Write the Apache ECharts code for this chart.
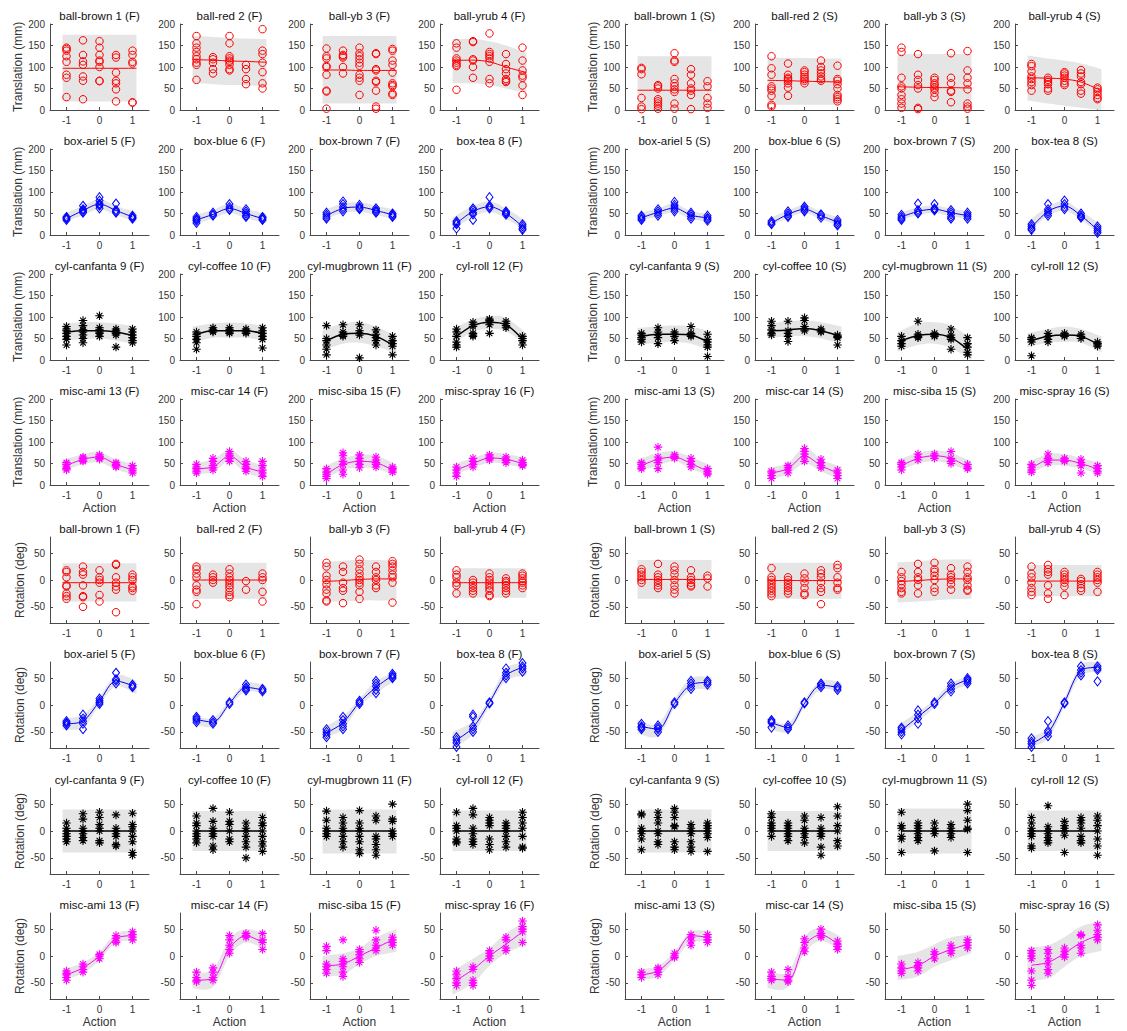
<!DOCTYPE html>
<html><head><meta charset="utf-8">
<script src="https://cdn.jsdelivr.net/npm/echarts@6/dist/echarts.min.js"></script>
<style>html,body{margin:0;padding:0;background:#fff}#c{width:1127px;height:1031px}</style>
</head><body><div id="c"></div>
<script>
// ---------- categories / ticks ----------
const ACTIONS = [-1, -0.5, 0, 0.5, 1];
const BAND_X = [-1.12, -0.5, 0, 0.5, 1.12];
const objectNames = ['ball-brown 1','ball-red 2','ball-yb 3','ball-yrub 4','box-ariel 5','box-blue 6','box-brown 7','box-tea 8',
  'cyl-canfanta 9','cyl-coffee 10','cyl-mugbrown 11','cyl-roll 12','misc-ami 13','misc-car 14','misc-siba 15','misc-spray 16'];
const conditions = ['F', 'S'];
const xTicks = [-1, 0, 1];
const yTicksTrans = [0, 50, 100, 150, 200];
const yTicksRot = [-50, 0, 50];

// ---------- Translation (mm), F ----------
const transF_ball_pts = [
 [[145,142,138,125,112,82,75,30],[162,128,113,105,78,68,25],[160,145,128,115,112,100,68,67],[128,122,87,68,62,48,20],[138,128,112,108,18,17]],
 [[172,155,145,135,125,118,110,105,70],[123,118,110,95,85],[172,155,125,120,115,112,105,95,92],[105,95,72,60],[188,138,130,110,88,62,50]],
 [[143,125,120,102,100,82,45,43,3],[138,128,125,122,100,85],[145,132,125,118,110,103,82,75,68,35],[132,130,95,92,68,65,45,8,3],[142,138,115,105,87,62,58,55,38,35]],
 [[155,145,120,115,110,105,102,47],[160,158,118,115,100,75],[178,135,130,125,120,112,72,62],[130,107,95,85,72,68,65],[145,115,92,80,75,57,35]]
];
const transF_ball_mean = [[97,97,97,97,97],[117,116,114,113,111],[93,93,92,92,92],[115,116,112,100,87]];
const transF_ball_lo = [[20,20,20,20,20],[62,60,58,57,55],[15,15,15,15,15],[62,62,58,50,40]];
const transF_ball_hi = [[175,175,175,175,175],[172,170,168,166,165],[172,172,172,172,172],[165,165,160,150,133]];

const transF_box_pts = [
 [[42,38,35,40],[68,60,55,52,58],[88,80,73,68,62,70],[73,58,55,52],[45,42,40,38]],
 [[42,38,33,28,35],[52,48,45],[72,65,60,58],[60,55,50,45,42],[42,40,37,35]],
 [[52,47,42,38],[78,72,65,60,55],[70,65,62,60],[62,58,55,52],[50,47,44,42]],
 [[32,28,25,15],[62,58,52,48,35],[88,68,65,62],[55,52,50,47],[25,20,15,12]]
];
const transF_box_mean = [[38,57,72,57,42],[35,48,62,50,38],[45,62,65,57,47],[27,55,66,50,20]];
const transF_box_lo = [[28,46,60,46,31],[24,38,51,39,27],[34,51,54,46,36],[12,42,54,38,8]];
const transF_box_hi = [[48,68,84,68,52],[46,58,73,61,49],[56,73,76,68,58],[40,68,78,62,32]];

const transF_cyl_pts = [
 [[78,72,68,62,55,48,35],[92,80,70,65,58,50,40],[103,75,70,65,62,55],[72,68,65,62,58,30],[72,65,58,52,45,40]],
 [[65,60,55,48,40,25],[75,70,68,65],[75,70,68,65,62],[72,68,65,62],[75,68,62,55,48,28]],
 [[80,50,45,35,25,12],[82,65,60,58,55],[82,68,62,58,5],[70,60,52,45,35],[55,45,38,32,12]],
 [[72,65,55,42,35,30],[88,82,78,62,58,55],[95,92,88,82,62],[90,85,80,75],[55,50,45,35]]
];
const transF_cyl_mean = [[65,68,68,65,57],[60,68,68,68,62],[45,60,62,55,35],[55,80,88,82,48]];
const transF_cyl_lo = [[45,48,50,45,37],[42,52,52,52,45],[22,38,40,32,15],[38,65,72,67,33]];
const transF_cyl_hi = [[85,88,88,85,78],[78,85,87,85,80],[70,85,88,78,55],[72,95,102,98,62]];

const transF_misc_pts = [
 [[52,48,42,38,35],[65,62,58,55],[70,66,62,60],[52,48,45,42],[45,38,33,28]],
 [[48,42,38,32,28],[62,55,45,40,35],[78,72,68,62,55],[55,48,42,38,32],[55,45,35,28,20]],
 [[38,30,25,20,15],[75,68,55,48,35,25],[70,62,55,48,40],[65,58,52,48,42],[42,38,35,30]],
 [[42,35,28,20],[62,55,48,42],[70,65,62,58],[65,60,57,52],[58,52,48,45]]
];
const transF_misc_mean = [[45,60,65,48,35],[38,42,68,42,30],[25,48,55,52,35],[35,50,63,60,50]];
const transF_misc_lo = [[33,48,53,36,23],[25,30,55,28,15],[12,35,40,38,22],[22,40,52,48,38]];
const transF_misc_hi = [[57,72,77,60,47],[50,60,82,58,45],[40,62,70,68,48],[48,62,75,72,62]];

// ---------- Translation (mm), S ----------
const transS_ball_pts = [
 [[98,95,83,28,8,2],[58,55,50,25,20,15,10,3],[132,115,112,72,62,55,48,42,15,3],[95,82,62,50,45,35,2],[67,55,28,15,5]],
 [[125,97,82,55,50,45,33,12,8],[108,82,75,72,68,62,52,33],[92,88,82,77,72,68,62],[115,100,92,85,78,72,68],[103,72,68,60,50,35,30,25,20]],
 [[145,135,75,55,50,35,25,15,5],[130,82,70,58,50,5,2],[75,70,62,58,52,48,40,30],[132,75,62,45,42,18],[137,92,75,62,48,15,8,3]],
 [[107,102,90,78,72,65,58,45],[75,70,65,60,50,45],[88,85,80,75,68,62,58],[93,85,78,65,60,45,38],[52,48,42,35,28,25]]
];
const transS_ball_mean = [[46,46,46,46,46],[69,68,67,66,65],[54,53,52,52,51],[75,74,72,65,45]];
const transS_ball_lo = [[0,0,0,0,0],[12,12,12,12,12],[0,0,0,0,0],[22,15,10,5,0]];
const transS_ball_hi = [[125,125,125,125,125],[122,121,121,120,120],[130,130,130,130,130],[127,120,115,108,95]];

const transS_box_pts = [
 [[45,42,38,35],[60,55,50,45],[77,70,65,60,55],[52,48,43,38],[45,40,37,33]],
 [[32,28,25],[55,50,45,42],[66,62,58,55],[48,45,40],[35,30,25,22]],
 [[47,42,38,35],[73,58,53,50],[72,62,60,57],[58,53,48,42,38],[52,47,43,38]],
 [[25,20,15,12],[72,60,55,50,45],[80,72,65,60],[50,45,42,40],[20,15,10,5]]
];
const transS_box_mean = [[40,53,63,46,40],[28,48,60,45,30],[42,55,60,52,45],[18,55,68,45,12]];
const transS_box_lo = [[31,44,53,37,31],[19,39,51,36,21],[33,46,51,43,36],[6,44,57,35,0]];
const transS_box_hi = [[49,62,73,55,49],[37,57,69,54,39],[51,64,69,61,54],[30,66,79,55,24]];

const transS_cyl_pts = [
 [[62,58,52,48,42],[75,65,58,52,38],[65,60,55,45],[78,62,58,55],[60,48,42,35,30,8]],
 [[90,80,70,62,58],[90,68,62,55,43],[98,92,78,72,68],[72,68,65],[58,55,52,35]],
 [[55,45,38,32],[90,60,55,52],[62,58,55],[72,58,52,48,25],[52,38,30,18,12]],
 [[52,48,42,10],[62,55,48,42],[62,58,55],[60,55,50],[42,38,35,32]]
];
const transS_cyl_mean = [[55,60,60,58,42],[68,70,73,68,57],[45,57,60,52,25],[45,55,58,55,37]];
const transS_cyl_lo = [[35,40,42,38,22],[50,55,55,50,38],[20,35,38,28,0],[30,40,42,40,18]];
const transS_cyl_hi = [[75,78,80,78,65],[85,90,92,88,78],[65,85,88,80,50],[62,72,78,72,55]];

const transS_misc_pts = [
 [[52,48,42,38],[88,65,58,52,38],[70,66,62],[62,55,48,42],[38,32,28,25]],
 [[32,28,22,15],[45,40,35,28],[85,78,72,65,55],[60,52,45,40],[35,28,22,15]],
 [[52,48,42,35],[72,65,58],[72,68,62],[78,62,55,50],[48,42,38]],
 [[48,40,35,30],[72,62,58,52],[62,58,55],[60,52,45,28],[45,38,32,28]]
];
const transS_misc_mean = [[45,60,65,50,32],[28,38,68,45,28],[45,62,68,62,42],[38,58,58,50,37]];
const transS_misc_lo = [[32,45,55,38,20],[12,25,50,32,10],[32,50,55,48,30],[25,45,45,38,25]];
const transS_misc_hi = [[58,75,78,65,45],[40,52,88,60,42],[58,75,80,75,55],[52,72,72,62,50]];

// ---------- Rotation (deg), F ----------
const rotF_ball_pts = [
 [[18,15,5,-10,-12,-25,-30,-35],[25,15,10,-10,-30,-32,-50],[18,5,0,-5,-28,-40],[30,28,5,-5,-12,-18,-60],[10,5,0,-12,-15,-20]],
 [[25,20,12,5,-10,-18,-22,-45],[10,5,0,-5],[20,12,5,0,-5,-10,-15,-22,-28,-32],[-2,-18],[12,5,0,-22,-40]],
 [[32,25,8,0,-8,-18,-25,-38,-40],[25,15,-5,-15,-20,-43],[38,30,20,12,5,0,-5,-10,-22,-35],[25,15,5,0,-10,-15],[35,30,25,18,10,5,-5,-42]],
 [[18,10,5,-5,-10,-25],[0,-5,-10,-15,-20,-25],[12,5,0,-5,-10,-15,-20,-28,-30],[3,-2,-5,-10,-15,-20,-25],[12,8,3,-2,-5,-10,-15]]
];
const rotF_ball_mean = [[-5,-5,-5,-5,-5],[0,0,0,0,0],[-3,-1,1,2,2],[-5,-5,-5,-5,-5]];
const rotF_ball_lo = [[-40,-40,-40,-40,-40],[-35,-35,-35,-35,-35],[-40,-40,-38,-38,-38],[-33,-33,-33,-33,-33]];
const rotF_ball_hi = [[31,31,31,31,31],[32,32,32,32,32],[33,36,37,37,36],[22,22,22,22,22]];

const rotF_box_pts = [
 [[-30,-33,-35,-38],[-18,-25,-30,-35,-45],[12,8,5,2],[60,48,45,40],[38,35,33]],
 [[-22,-25,-28,-32],[-28,-32,-35],[5,2],[38,33,30,27],[30,28,25]],
 [[-45,-50,-55,-60],[-22,-28,-35,-40,-45],[8,5,2],[45,40,35,28,22],[58,55,52,50]],
 [[-60,-65,-70,-78],[-18,-22,-40,-45,-50],[5,3],[68,60,55,50],[78,72,68,62]]
];
const rotF_box_mean = [[-35,-30,7,45,36],[-27,-32,3,33,28],[-52,-33,5,33,55],[-65,-42,5,55,70]];
const rotF_box_lo = [[-45,-42,0,35,20],[-35,-40,-3,25,20],[-62,-45,-2,22,47],[-80,-55,-2,45,55]];
const rotF_box_hi = [[-25,-18,15,55,45],[-19,-24,9,41,36],[-42,-21,12,44,63],[-50,-30,12,68,78]];

const rotF_cyl_pts = [
 [[15,5,0,-5,-10,-15,-20],[32,22,5,0,-5,-12,-18],[35,25,12,5,0,-18,-22],[30,5,0,-5,-10,-25,-28],[33,12,8,0,-10,-20,-40,-45]],
 [[28,15,10,0,-5,-10,-15,-22],[42,18,5,0,-5,-10,-28,-35],[35,18,12,0,-15,-20],[15,5,0,-10,-20,-30,-50],[25,15,10,0,-10,-20,-28,-38]],
 [[37,20,5,0,-5,-10],[25,15,5,0,-10,-20,-30],[38,15,5,0,-10,-20,-35,-42],[28,20,-10,-15,-25,-35,-45],[50,22,18,0,-5,-10]],
 [[35,10,5,0,-15,-20,-22],[42,30,5,-5,-15,-20,-25],[25,20,15,10,-15,-25,-35],[15,10,5,0,-10,-20,-30],[35,25,15,5,-10,-30,-32]]
];
const rotF_cyl_mean = [[0,0,0,0,0],[0,0,0,0,0],[0,0,0,0,0],[0,0,0,0,0]];
const rotF_cyl_lo = [[-40,-40,-40,-40,-40],[-37,-37,-37,-37,-37],[-42,-42,-42,-42,-42],[-37,-37,-37,-37,-37]];
const rotF_cyl_hi = [[40,40,40,40,40],[37,37,37,37,37],[40,40,40,40,40],[38,38,38,38,38]];

const rotF_misc_pts = [
 [[-28,-32,-35,-40,-45],[-15,-20,-25,-30],[3,0,-5],[38,33,28,25],[45,40,35,30]],
 [[-30,-40,-45,-48],[-22,-30,-40,-45],[38,30,20,12,5],[42,38,35],[42,30,25,12]],
 [[18,10,-15,-20,-25,-32],[30,-5,-10,-15,-20,-30,-38],[12,8,2,-5,-12],[48,30,20,15,10],[35,30,25,20]],
 [[-28,-35,-42,-50,-55],[-20,-25,-45,-50,-55],[10,5,0,-5],[35,30,15,10],[65,55,50,45,25]]
];
const rotF_misc_mean = [[-35,-22,0,33,38],[-45,-42,15,38,25],[-18,-15,0,15,30],[-45,-25,0,22,45]];
const rotF_misc_lo = [[-45,-32,-8,25,28],[-60,-58,0,25,10],[-38,-35,-15,0,8],[-72,-50,-18,5,22]];
const rotF_misc_hi = [[-25,-12,8,42,48],[-30,-25,32,50,40],[0,5,15,35,50],[-28,-5,15,42,65]];

// ---------- Rotation (deg), S ----------
const rotS_ball_pts = [
 [[20,15,10,5,0,-5],[30,10,5,0,-5,-10,-15],[25,18,10,0,-10,-18,-25],[18,5,0,-5,-10,-12],[8,3,-12]],
 [[22,5,0,-5,-10,-15,-20,-25,-30],[5,0,-5,-10,-15,-20,-25],[12,3,-5,-15,-25,-28],[18,12,5,-5,-15,-22,-45],[28,22,5,-5,-15,-18]],
 [[15,5,-2,-8,-15,-22,-25],[30,15,5,0,-10,-25],[32,20,15,8,0,-15,-22],[22,10,5,0,-8,-18],[25,15,5,0,-10,-18,-20]],
 [[25,12,5,-5,-15,-22,-28],[28,20,15,10,-10,-25,-35],[15,10,5,0,-5,-12,-28],[2,-2,-8,-15,-20],[15,10,5,0,-5,-22]]
];
const rotS_ball_mean = [[1,1,1,1,1],[-1,-1,-1,-1,-1],[-3,-1,1,2,2],[-2,-2,-2,-2,-2]];
const rotS_ball_lo = [[-35,-35,-35,-35,-35],[-35,-35,-35,-35,-35],[-42,-40,-38,-36,-35],[-30,-30,-30,-30,-30]];
const rotS_ball_hi = [[37,37,37,37,37],[32,32,32,32,32],[33,35,37,38,38],[28,28,28,28,28]];

const rotS_box_pts = [
 [[-35,-40,-42,-45],[-38,-42,-45,-50],[5,2],[45,40,35,30],[45,42,38]],
 [[-28,-30,-33,-42],[-38,-42,-45],[5,3],[40,37,33],[35,32,28]],
 [[-42,-45,-50,-55],[-10,-18,-25,-35],[5,2],[40,35,30,25],[50,47,44,40]],
 [[-62,-68,-72,-78],[-30,-48,-52,-58],[5,3],[72,65,60,55],[72,68,65,44]]
];
const rotS_box_mean = [[-40,-45,3,38,42],[-33,-42,3,37,33],[-47,-22,3,33,47],[-72,-52,5,65,70]];
const rotS_box_lo = [[-52,-58,-5,28,28],[-42,-50,-4,29,24],[-56,-31,-4,25,39],[-80,-62,-3,55,60]];
const rotS_box_hi = [[-28,-35,12,50,52],[-24,-34,10,45,42],[-38,-13,10,41,55],[-62,-42,13,75,80]];

const rotS_cyl_pts = [
 [[32,30,5,0,-5,-15,-35],[35,25,15,0,-5,-20,-25],[42,35,25,10,8,-20,-30,-35],[12,5,0,-5,-20,-30,-38],[15,10,5,0,-5,-12,-38]],
 [[32,25,15,10,5,0,-10],[15,10,5,0,-5,-10,-18],[28,20,5,0,-5,-12,-22],[25,5,0,-5,-10,-30,-45],[45,28,10,0,-18,-28]],
 [[35,10,5,-10,-15,-40],[15,10,5,0,-5,-12,-18],[15,5,0,-5,-37],[12,5,0,-5,-12],[50,38,20,5,3,-40]],
 [[25,15,5,0,-5,-10,-28,-32],[47,8,0,-5,-12,-18,-22],[18,10,5,0,-8,-40],[25,20,15,5,-10,-18,-22],[28,20,10,0,-15,-28,-45]]
];
const rotS_cyl_mean = [[0,0,0,0,0],[0,0,0,0,0],[0,0,0,0,0],[0,0,0,0,0]];
const rotS_cyl_lo = [[-40,-40,-40,-40,-40],[-37,-37,-37,-37,-37],[-42,-42,-42,-42,-42],[-37,-37,-37,-37,-37]];
const rotS_cyl_hi = [[40,40,40,40,40],[37,37,37,37,37],[42,42,42,42,42],[38,38,38,38,38]];

const rotS_misc_pts = [
 [[-30,-35,-40],[-22,-25,-30,-35],[5,0,-3],[40,35,28,20],[40,35,30,25]],
 [[-30,-38,-42,-45],[-25,-38,-45,-48],[32,25,15,8],[50,42,38,35],[28,22,18,12]],
 [[-15,-22,-28,-32],[-12,-18,-22,-28],[8,3,-5],[20,15,10,5],[30,25,20,15]],
 [[10,5,0,-5,-28,-45,-55],[12,5,-5,-15,-25,-32],[15,8,3,-2],[40,38,20,15,5],[58,48,40,35,30]]
];
const rotS_misc_mean = [[-35,-28,0,38,35],[-43,-45,20,40,22],[-25,-18,0,12,22],[-17,-12,5,25,38]];
const rotS_misc_lo = [[-45,-38,-8,25,25],[-60,-58,5,28,10],[-45,-38,-20,-8,5],[-45,-42,-20,0,10]];
const rotS_misc_hi = [[-25,-18,8,45,45],[-25,-30,35,52,35],[0,8,22,35,40],[15,20,35,55,65]];

// ---------- assembly ----------
const DATA = {
  trans: {
    F: [[transF_ball_pts,transF_ball_mean,transF_ball_lo,transF_ball_hi],[transF_box_pts,transF_box_mean,transF_box_lo,transF_box_hi],
        [transF_cyl_pts,transF_cyl_mean,transF_cyl_lo,transF_cyl_hi],[transF_misc_pts,transF_misc_mean,transF_misc_lo,transF_misc_hi]],
    S: [[transS_ball_pts,transS_ball_mean,transS_ball_lo,transS_ball_hi],[transS_box_pts,transS_box_mean,transS_box_lo,transS_box_hi],
        [transS_cyl_pts,transS_cyl_mean,transS_cyl_lo,transS_cyl_hi],[transS_misc_pts,transS_misc_mean,transS_misc_lo,transS_misc_hi]]
  },
  rot: {
    F: [[rotF_ball_pts,rotF_ball_mean,rotF_ball_lo,rotF_ball_hi],[rotF_box_pts,rotF_box_mean,rotF_box_lo,rotF_box_hi],
        [rotF_cyl_pts,rotF_cyl_mean,rotF_cyl_lo,rotF_cyl_hi],[rotF_misc_pts,rotF_misc_mean,rotF_misc_lo,rotF_misc_hi]],
    S: [[rotS_ball_pts,rotS_ball_mean,rotS_ball_lo,rotS_ball_hi],[rotS_box_pts,rotS_box_mean,rotS_box_lo,rotS_box_hi],
        [rotS_cyl_pts,rotS_cyl_mean,rotS_cyl_lo,rotS_cyl_hi],[rotS_misc_pts,rotS_misc_mean,rotS_misc_lo,rotS_misc_hi]]
  }
};

const FONT = "'Liberation Sans', Arial, Helvetica, sans-serif";
const ASTERISK = 'path://M5 0L5 10M0 5L10 5M1.6 1.6L8.4 8.4M8.4 1.6L1.6 8.4';
const CLASS_STYLE = [
  { color: '#ff0000', symbol: 'circle', size: 7.5, lw: 1, bw: 1 },
  { color: '#0000ff', symbol: 'diamond', size: [7, 9], lw: 1, bw: 1 },
  { color: '#000000', symbol: ASTERISK, size: 8.5, lw: 1.5, bw: 1.1 },
  { color: '#ff00ff', symbol: ASTERISK, size: 8.5, lw: 1, bw: 1.1 }
];
const ROW_TOPS = [24, 149, 274, 399, 537, 662, 788, 913];
const COL_LEFTS = [50, 180, 310, 440, 625, 755, 885, 1015];
const PW = 99, PH = 86;
const AX = '#4a4a4a', TXT = '#333333';

// smooth outline (Catmull-Rom -> cubic Bezier) through pixel points
function smoothSegs(P) {
  let d = '';
  const n = P.length;
  for (let i = 0; i < n - 1; i++) {
    const p0 = P[Math.max(i - 1, 0)], p1 = P[i], p2 = P[i + 1], p3 = P[Math.min(i + 2, n - 1)];
    const c1 = [p1[0] + (p2[0] - p0[0]) / 6, p1[1] + (p2[1] - p0[1]) / 6];
    const c2 = [p2[0] - (p3[0] - p1[0]) / 6, p2[1] - (p3[1] - p1[1]) / 6];
    d += 'C' + c1[0].toFixed(2) + ',' + c1[1].toFixed(2) + ' ' + c2[0].toFixed(2) + ',' + c2[1].toFixed(2) + ' ' + p2[0].toFixed(2) + ',' + p2[1].toFixed(2);
  }
  return d;
}
function bandRenderer(lo, hi) {
  return function (params, api) {
    const up = BAND_X.map((x, i) => api.coord([x, hi[i]]));
    const dn = BAND_X.map((x, i) => api.coord([x, lo[i]])).reverse();
    const d = 'M' + up[0][0].toFixed(2) + ',' + up[0][1].toFixed(2) + smoothSegs(up) +
              'L' + dn[0][0].toFixed(2) + ',' + dn[0][1].toFixed(2) + smoothSegs(dn) + 'Z';
    return { type: 'path', shape: { pathData: d }, style: { fill: '#e5e5e5', stroke: null } };
  };
}

const grids = [], xAxes = [], yAxes = [], series = [], graphics = [];
let k = 0;
for (let r = 0; r < 8; r++) {
  const q = r < 4 ? 'trans' : 'rot';
  const cls = r % 4;
  const st = CLASS_STYLE[cls];
  for (let c = 0; c < 8; c++) {
    const cond = conditions[c < 4 ? 0 : 1];
    const j = c % 4;
    const [ptsAll, meanAll, loAll, hiAll] = DATA[q][cond][cls];
    const pts = ptsAll[j], mean = meanAll[j], lo = loAll[j], hi = hiAll[j];
    grids.push({ left: COL_LEFTS[c], top: ROW_TOPS[r], width: PW, height: PH });
    xAxes.push({
      gridIndex: k, type: 'value', min: -1.5, max: 1.5,
      axisLine: { onZero: false, lineStyle: { color: AX, width: 1 } },
      axisTick: { inside: true, length: 3, customValues: xTicks, lineStyle: { color: AX } },
      axisLabel: { customValues: xTicks, fontSize: 10, color: TXT, margin: 5, fontFamily: FONT },
      splitLine: { show: false },
      name: (r === 3 || r === 7) ? 'Action' : '', nameLocation: 'middle', nameGap: 17,
      nameTextStyle: { fontSize: 12, color: TXT, fontFamily: FONT }
    });
    const yT = q === 'trans' ? yTicksTrans : yTicksRot;
    yAxes.push({
      gridIndex: k, type: 'value', min: q === 'trans' ? 0 : -80, max: q === 'trans' ? 200 : 80,
      axisLine: { show: true, onZero: false, lineStyle: { color: AX, width: 1 } },
      axisTick: { show: true, inside: true, length: 3, customValues: yT, lineStyle: { color: AX } },
      axisLabel: { customValues: yT, fontSize: 10, color: TXT, margin: 5, fontFamily: FONT },
      splitLine: { show: false },
      name: j === 0 ? (q === 'trans' ? 'Translation (mm)' : 'Rotation (deg)') : '',
      nameLocation: 'middle', nameGap: 24, nameRotate: 90,
      nameTextStyle: { fontSize: 12, color: TXT, fontFamily: FONT }
    });
    graphics.push({
      type: 'text', x: COL_LEFTS[c] + PW / 2, y: ROW_TOPS[r] - 8, silent: true,
      style: { text: objectNames[cls * 4 + j] + ' (' + cond + ')', textAlign: 'center', textVerticalAlign: 'middle',
               fontSize: 11.5, fontWeight: 'normal', fontFamily: FONT, fill: '#111' }
    });
    series.push({
      type: 'custom', xAxisIndex: k, yAxisIndex: k, silent: true, clip: true,
      data: [[0, 0]], encode: { x: 0, y: 1 }, renderItem: bandRenderer(lo, hi), z: 1
    });
    const LX = cls === 0 ? BAND_X : ACTIONS;
    series.push({
      type: 'line', xAxisIndex: k, yAxisIndex: k, silent: true,
      data: LX.map((x, i) => [x, mean[i]]), symbol: 'none', smooth: 0.3,
      lineStyle: { color: st.color, width: st.lw }, z: 3
    });
    const sd = [];
    pts.forEach((g, gi) => g.forEach(v => sd.push([ACTIONS[gi], v])));
    series.push({
      type: 'scatter', xAxisIndex: k, yAxisIndex: k, silent: true, data: sd,
      symbol: st.symbol, symbolSize: st.size,
      itemStyle: { color: 'rgba(0,0,0,0)', borderColor: st.color, borderWidth: st.bw, opacity: 1 }, z: 4
    });
    k++;
  }
}

const chart = echarts.init(document.getElementById('c'), null, { renderer: 'svg' });
chart.setOption({
  backgroundColor: '#ffffff',
  animation: false,
  textStyle: { fontFamily: FONT },
  grid: grids, xAxis: xAxes, yAxis: yAxes, series: series, graphic: graphics
});
</script></body></html>
